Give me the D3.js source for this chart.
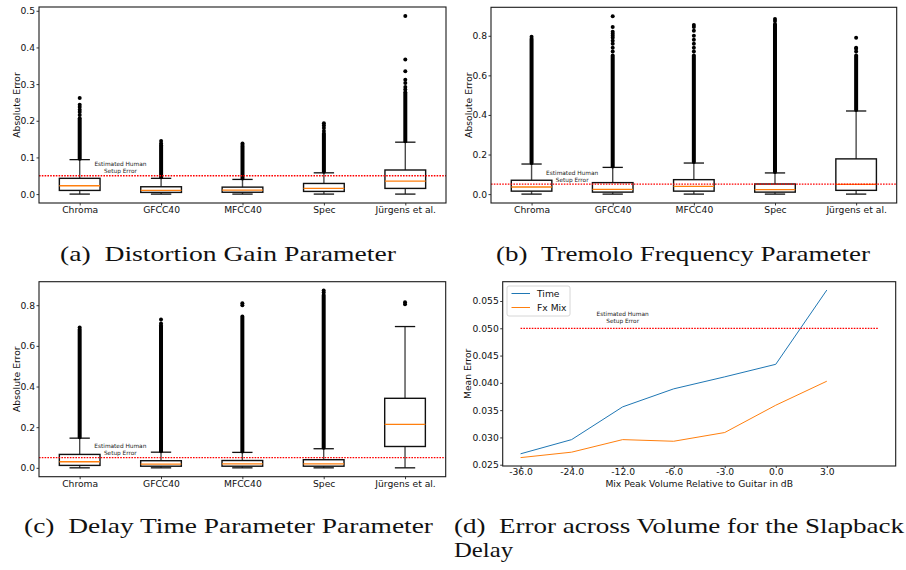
<!DOCTYPE html>
<html>
<head>
<meta charset="utf-8">
<script src="https://cdn.jsdelivr.net/npm/d3@7"></script>
<style>
  body { margin: 0; background: #fff; }
  svg { display: block; }
  .caption { font-family: "Liberation Serif", "Times New Roman", serif; }
</style>
</head>
<body>
<svg id="fig" width="906" height="570"></svg>
<script>
// ---------- data ----------
const methods = ["Chroma", "GFCC40", "MFCC40", "Spec", "Jürgens et al."];
const humanError = 0.05;

// box summaries per method: [low whisker, Q1, median, Q3, high whisker]
const distortionStats = [
  [0, 0.010, 0.0227, 0.043, 0.094],
  [0, 0.0046, 0.010, 0.020, 0.043],
  [0, 0.005, 0.011, 0.019, 0.040],
  [0, 0.0073, 0.0155, 0.029, 0.058],
  [0, 0.0155, 0.0356, 0.0657, 0.1416]
];
// top of the solid run of outliers above the upper whisker
const distortionDenseTop = [0.207, 0.133, 0.130, 0.165, 0.278];
// individually visible outliers
const distortionSparse = [
  [0.216, 0.224, 0.230, 0.2375, 0.244, 0.262],
  [0.138, 0.145],
  [0.134, 0.138],
  [0.172, 0.180, 0.187, 0.193],
  [0.285, 0.292, 0.303, 0.312, 0.335, 0.367, 0.486]
];

const tremoloStats = [
  [0, 0.015, 0.036, 0.070, 0.152],
  [0, 0.010, 0.024, 0.058, 0.135],
  [0, 0.015, 0.039, 0.073, 0.157],
  [0, 0.010, 0.023, 0.051, 0.107],
  [0, 0.019, 0.049, 0.178, 0.420]
];
const tremoloDenseTop = [0.785, 0.70, 0.70, 0.86, 0.70];
const tremoloSparse = [
  [0.795],
  [0.72, 0.74, 0.76, 0.775, 0.79, 0.80, 0.81, 0.82, 0.845, 0.899],
  [0.72, 0.74, 0.76, 0.78, 0.80, 0.825, 0.845, 0.855],
  [0.875, 0.885],
  [0.72, 0.735, 0.74, 0.79]
];

const delayStats = [
  [0, 0.012, 0.030, 0.066, 0.146],
  [0, 0.008, 0.018, 0.035, 0.077],
  [0, 0.008, 0.019, 0.036, 0.076],
  [0, 0.008, 0.019, 0.040, 0.094],
  [0, 0.105, 0.214, 0.342, 0.695]
];
const delayDenseTop = [0.68, 0.70, 0.745, 0.85, null];
const delaySparse = [
  [0.69],
  [0.71, 0.73],
  [0.80, 0.81],
  [0.862, 0.872],
  [0.805, 0.815]
];

const volumeLabels = ["-36.0", "-24.0", "-12.0", "-6.0", "-3.0", "0.0", "3.0"];
const timeError  = [0.0270, 0.0296, 0.0356, 0.0389, 0.0411, 0.0434, 0.0570];
const fxMixError = [0.0263, 0.0273, 0.0296, 0.0293, 0.0309, 0.0359, 0.0403];

const boxTicksA = [0, 0.1, 0.2, 0.3, 0.4, 0.5];
const boxTicksBC = [0, 0.2, 0.4, 0.6, 0.8];
const volumeTicks = [0.025, 0.030, 0.035, 0.040, 0.045, 0.050, 0.055];

// ---------- drawing ----------
const svg = d3.select("#fig");
const SANS = "DejaVu Sans, sans-serif";
const FS = 9.2;
const BLUE = "#1f77b4", ORANGE = "#ff7f0e";

function styleAxis(g) {
  g.select(".domain").remove();
  g.selectAll(".tick line").attr("stroke", "#222").attr("stroke-width", 0.9);
  g.selectAll(".tick text").attr("fill", "#111").attr("font-family", SANS).attr("font-size", FS);
}

function frame(g, f) {
  g.append("rect")
    .attr("x", f.left).attr("y", f.top)
    .attr("width", f.right - f.left).attr("height", f.bottom - f.top)
    .attr("fill", "none").attr("stroke", "#1a1a1a").attr("stroke-width", 1.1);
}

function yLabel(g, text, x, cy) {
  g.append("text")
    .attr("transform", `translate(${x},${cy}) rotate(-90)`)
    .attr("text-anchor", "middle").attr("dy", "0.35em")
    .attr("font-family", SANS).attr("font-size", FS).attr("fill", "#111")
    .text(text);
}

function humanNote(g, x, yBase) {
  const t = g.append("text")
    .attr("text-anchor", "middle")
    .attr("font-family", SANS).attr("font-size", 5.8).attr("fill", "#222");
  t.append("tspan").attr("x", x).attr("y", yBase - 7).text("Estimated Human");
  t.append("tspan").attr("x", x).attr("y", yBase).text("Setup Error");
}

function boxPanel(f, stats, denseTop, sparse, ticks, labelX) {
  const g = svg.append("g");
  const maxVal = d3.max([
    d3.max(sparse.flat()),
    d3.max(denseTop.filter(d => d != null)),
    d3.max(stats, s => s[4])
  ]);
  const pad = 0.05 * maxVal;
  const y = d3.scaleLinear().domain([-pad, maxVal + pad]).range([f.bottom, f.top]);
  const x = d3.scaleLinear().domain([0.5, methods.length + 0.5]).range([f.left, f.right]);

  const boxHalf = 0.25, capHalf = 0.125;

  methods.forEach((m, i) => {
    const p = i + 1;
    const s = stats[i];
    const bg = g.append("g");
    // whiskers
    bg.append("line").attr("x1", x(p)).attr("x2", x(p)).attr("y1", y(s[0])).attr("y2", y(s[1]))
      .attr("stroke", "#4a4a4a").attr("stroke-width", 1.4);
    bg.append("line").attr("x1", x(p)).attr("x2", x(p)).attr("y1", y(s[3])).attr("y2", y(s[4]))
      .attr("stroke", "#4a4a4a").attr("stroke-width", 1.4);
    // caps
    [s[0], s[4]].forEach(v => {
      bg.append("line").attr("x1", x(p - capHalf)).attr("x2", x(p + capHalf))
        .attr("y1", y(v)).attr("y2", y(v))
        .attr("stroke", "#111").attr("stroke-width", 1.3);
    });
    // box
    bg.append("rect")
      .attr("x", x(p - boxHalf)).attr("y", y(s[3]))
      .attr("width", x(p + boxHalf) - x(p - boxHalf)).attr("height", y(s[1]) - y(s[3]))
      .attr("fill", "none").attr("stroke", "#111").attr("stroke-width", 1.4);
    // median
    bg.append("line").attr("x1", x(p - boxHalf)).attr("x2", x(p + boxHalf))
      .attr("y1", y(s[2])).attr("y2", y(s[2]))
      .attr("stroke", ORANGE).attr("stroke-width", 1.3);
    // dense run of outliers
    if (denseTop[i] != null) {
      bg.append("line").attr("x1", x(p)).attr("x2", x(p))
        .attr("y1", y(s[4]) - 1).attr("y2", y(denseTop[i]))
        .attr("stroke", "#000").attr("stroke-width", 4).attr("stroke-linecap", "round");
    }
    // single outliers
    bg.selectAll("circle.o").data(sparse[i]).join("circle")
      .attr("class", "o")
      .attr("cx", x(p)).attr("cy", d => y(d)).attr("r", 2)
      .attr("fill", "#000");
  });

  // human setup error threshold
  g.append("line")
    .attr("x1", f.left).attr("x2", f.right)
    .attr("y1", y(humanError)).attr("y2", y(humanError))
    .attr("stroke", "#ff0000").attr("stroke-width", 1.3).attr("stroke-dasharray", "1.6,1.2");
  humanNote(g, x(1.5), y(humanError + 0.005) - 1.4);

  frame(g, f);

  g.append("g").attr("transform", `translate(${f.left},0)`)
    .call(d3.axisLeft(y).tickValues(ticks).tickFormat(d3.format(".1f")).tickSize(2.5).tickPadding(1.4))
    .call(styleAxis);
  g.append("g").attr("transform", `translate(0,${f.bottom})`)
    .call(d3.axisBottom(x).tickValues(d3.range(1, methods.length + 1))
      .tickFormat((d) => methods[d - 1]).tickSize(2.5).tickPadding(1))
    .call(styleAxis);

  yLabel(g, "Absolute Error", labelX, (f.top + f.bottom) / 2);
}

boxPanel({ left: 39, right: 446, top: 7, bottom: 203 },
  distortionStats, distortionDenseTop, distortionSparse, boxTicksA, 17);
boxPanel({ left: 491, right: 896.7, top: 7.3, bottom: 203 },
  tremoloStats, tremoloDenseTop, tremoloSparse, boxTicksBC, 468.5);
boxPanel({ left: 39, right: 445.7, top: 281.7, bottom: 476.7 },
  delayStats, delayDenseTop, delaySparse, boxTicksBC, 17);

// ---------- volume line panel ----------
(function () {
  const f = { left: 502.7, right: 895.7, top: 281.7, bottom: 466 };
  const g = svg.append("g");
  const lo = d3.min([...timeError, ...fxMixError]);
  const hi = d3.max([...timeError, ...fxMixError, humanError]);
  const pad = 0.05 * (hi - lo);
  const y = d3.scaleLinear().domain([lo - pad, hi + pad]).range([f.bottom, f.top]);
  const xSpan = volumeLabels.length; // threshold line runs to this index
  const x = d3.scaleLinear().domain([-0.05 * xSpan, xSpan * 1.05]).range([f.left, f.right]);

  const line = d3.line().x((d, i) => x(i)).y(d => y(d));
  g.append("path").datum(timeError).attr("d", line)
    .attr("fill", "none").attr("stroke", BLUE).attr("stroke-width", 1);
  g.append("path").datum(fxMixError).attr("d", line)
    .attr("fill", "none").attr("stroke", ORANGE).attr("stroke-width", 1);

  g.append("line")
    .attr("x1", x(0)).attr("x2", x(xSpan))
    .attr("y1", y(humanError)).attr("y2", y(humanError))
    .attr("stroke", "#ff0000").attr("stroke-width", 1.2).attr("stroke-dasharray", "1.6,1.2");
  humanNote(g, x(2), y(humanError + 0.0008) - 1.4);

  frame(g, f);

  g.append("g").attr("transform", `translate(${f.left},0)`)
    .call(d3.axisLeft(y).tickValues(volumeTicks).tickFormat(d3.format(".3f")).tickSize(2.5).tickPadding(1.4))
    .call(styleAxis);
  g.append("g").attr("transform", `translate(0,${f.bottom})`)
    .call(d3.axisBottom(x).tickValues(d3.range(volumeLabels.length))
      .tickFormat(d => volumeLabels[d]).tickSize(2).tickPadding(0.5))
    .call(styleAxis);

  yLabel(g, "Mean Error", 468, (f.top + f.bottom) / 2);
  g.append("text")
    .attr("x", (f.left + f.right) / 2).attr("y", 486.5)
    .attr("text-anchor", "middle")
    .attr("font-family", SANS).attr("font-size", FS).attr("fill", "#111")
    .text("Mix Peak Volume Relative to Guitar in dB");

  // legend
  const lg = g.append("g");
  lg.append("rect").attr("x", 507).attr("y", 286).attr("width", 63).attr("height", 30).attr("rx", 2)
    .attr("fill", "#fff").attr("fill-opacity", 0.8).attr("stroke", "#ccc").attr("stroke-width", 0.8);
  [["Time", BLUE, 293.5], ["Fx Mix", ORANGE, 307.5]].forEach(([name, color, ly]) => {
    lg.append("line").attr("x1", 511.5).attr("x2", 530).attr("y1", ly).attr("y2", ly)
      .attr("stroke", color).attr("stroke-width", 1);
    lg.append("text").attr("x", 537).attr("y", ly).attr("dy", "0.35em")
      .attr("font-family", SANS).attr("font-size", FS).attr("fill", "#111").text(name);
  });
})();

// ---------- captions ----------
const captions = [
  { text: "(a)\u2002Distortion Gain Parameter", x: 60, y: 261.3, w: 336 },
  { text: "(b)\u2002Tremolo Frequency Parameter", x: 496, y: 261.3, w: 374 },
  { text: "(c)\u2002Delay Time Parameter Parameter", x: 24, y: 533.3, w: 409 },
  { text: "(d)\u2002Error across Volume for the Slapback", x: 454, y: 533.3, w: 450 },
  { text: "Delay", x: 454, y: 556.7, w: 59 }
];
svg.append("g").selectAll("text").data(captions).join("text")
  .attr("class", "caption")
  .attr("x", d => d.x).attr("y", d => d.y)
  .attr("textLength", d => d.w).attr("lengthAdjust", "spacingAndGlyphs")
  .attr("font-size", 22).attr("fill", "#111")
  .text(d => d.text);
</script>
</body>
</html>
